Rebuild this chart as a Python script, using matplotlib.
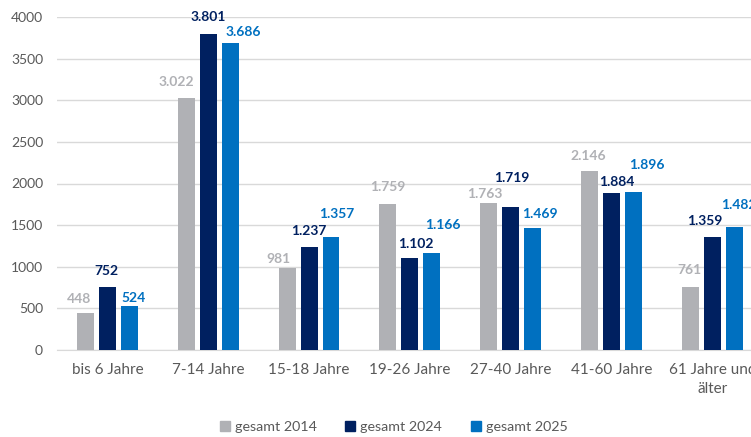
import matplotlib
matplotlib.use("Agg")
import matplotlib.pyplot as plt
import numpy as np
from matplotlib.patches import Patch

categories = ["bis 6 Jahre", "7-14 Jahre", "15-18 Jahre", "19-26 Jahre",
              "27-40 Jahre", "41-60 Jahre", "61 Jahre und\nälter"]
series_names = ["gesamt 2014", "gesamt 2024", "gesamt 2025"]
v2014 = [448, 3022, 981, 1759, 1763, 2146, 761]
v2024 = [752, 3801, 1237, 1102, 1719, 1884, 1359]
v2025 = [524, 3686, 1357, 1166, 1469, 1896, 1482]
colors = ["#B0B1B5", "#002060", "#0070C0"]

# manual label placement (pixel offsets of label centre from bar top centre)
label_dx = [
    [-6.5, -10, -8.6, 0, -3.7, -1.5, -1.3],
    [-0.5, 0, 0, 6, 1.3, 5.5, -7.3],
    [4.5, 12.7, 6, 11, 7.3, 13.5, 4.7],
]
label_dy = [
    [14.7, 17.4, 10.3, 17.6, 10.2, 16.3, 17.6],
    [17.4, 17.6, 17, 15.3, 30, 11.7, 16.9],
    [9.4, 12, 24, 29, 14.7, 28.2, 22.6],
]

plt.rcParams['font.family'] = ['Lato', 'DejaVu Sans']

fig = plt.figure(figsize=(7.51, 4.37), dpi=100)
ax = fig.add_axes([57/751, 1-350/437, 705.7/751, 333/437])

x = np.arange(len(categories))
w = 0.168
step = 0.218
for i, (vals, c) in enumerate(zip([v2014, v2024, v2025], colors)):
    pos = x + (i-1)*step
    ax.bar(pos, vals, width=w, color=c, zorder=3)
    for j, (p, v) in enumerate(zip(pos, vals)):
        s = f"{v:,}".replace(",", ".")
        ax.annotate(s, (p, v), xytext=(label_dx[i][j], label_dy[i][j]),
                    textcoords="offset pixels",
                    ha="center", va="center_baseline", fontsize=10, fontweight="bold",
                    color=c, zorder=4, annotation_clip=False)

ax.set_xlim(-0.5, len(categories)-0.5)
ax.set_ylim(0, 4000)
ax.set_yticks(range(0, 4001, 500))
ax.set_xticks(x)
ax.set_xticklabels(categories, fontsize=11, linespacing=1.5)
ax.yaxis.grid(True, color="#D9D9D9", linewidth=1, zorder=0)
for s in ["top", "right", "left"]:
    ax.spines[s].set_visible(False)
ax.spines["bottom"].set_color("#D9D9D9")
ax.tick_params(axis="both", length=0, colors="#595959")
ax.tick_params(axis="y", labelsize=10, pad=10)
ax.tick_params(axis="x", pad=9)

handles = [Patch(color=c, label=n) for c, n in zip(colors, series_names)]
leg = fig.legend(handles=handles, loc="center", bbox_to_anchor=(0.524, 0.023),
                 ncol=3, frameon=False, fontsize=10.3, handlelength=0.7,
                 handleheight=0.7, handletextpad=0.35, columnspacing=2.0)
for t in leg.get_texts():
    t.set_color("#595959")

fig.savefig("out.png", dpi=100)
